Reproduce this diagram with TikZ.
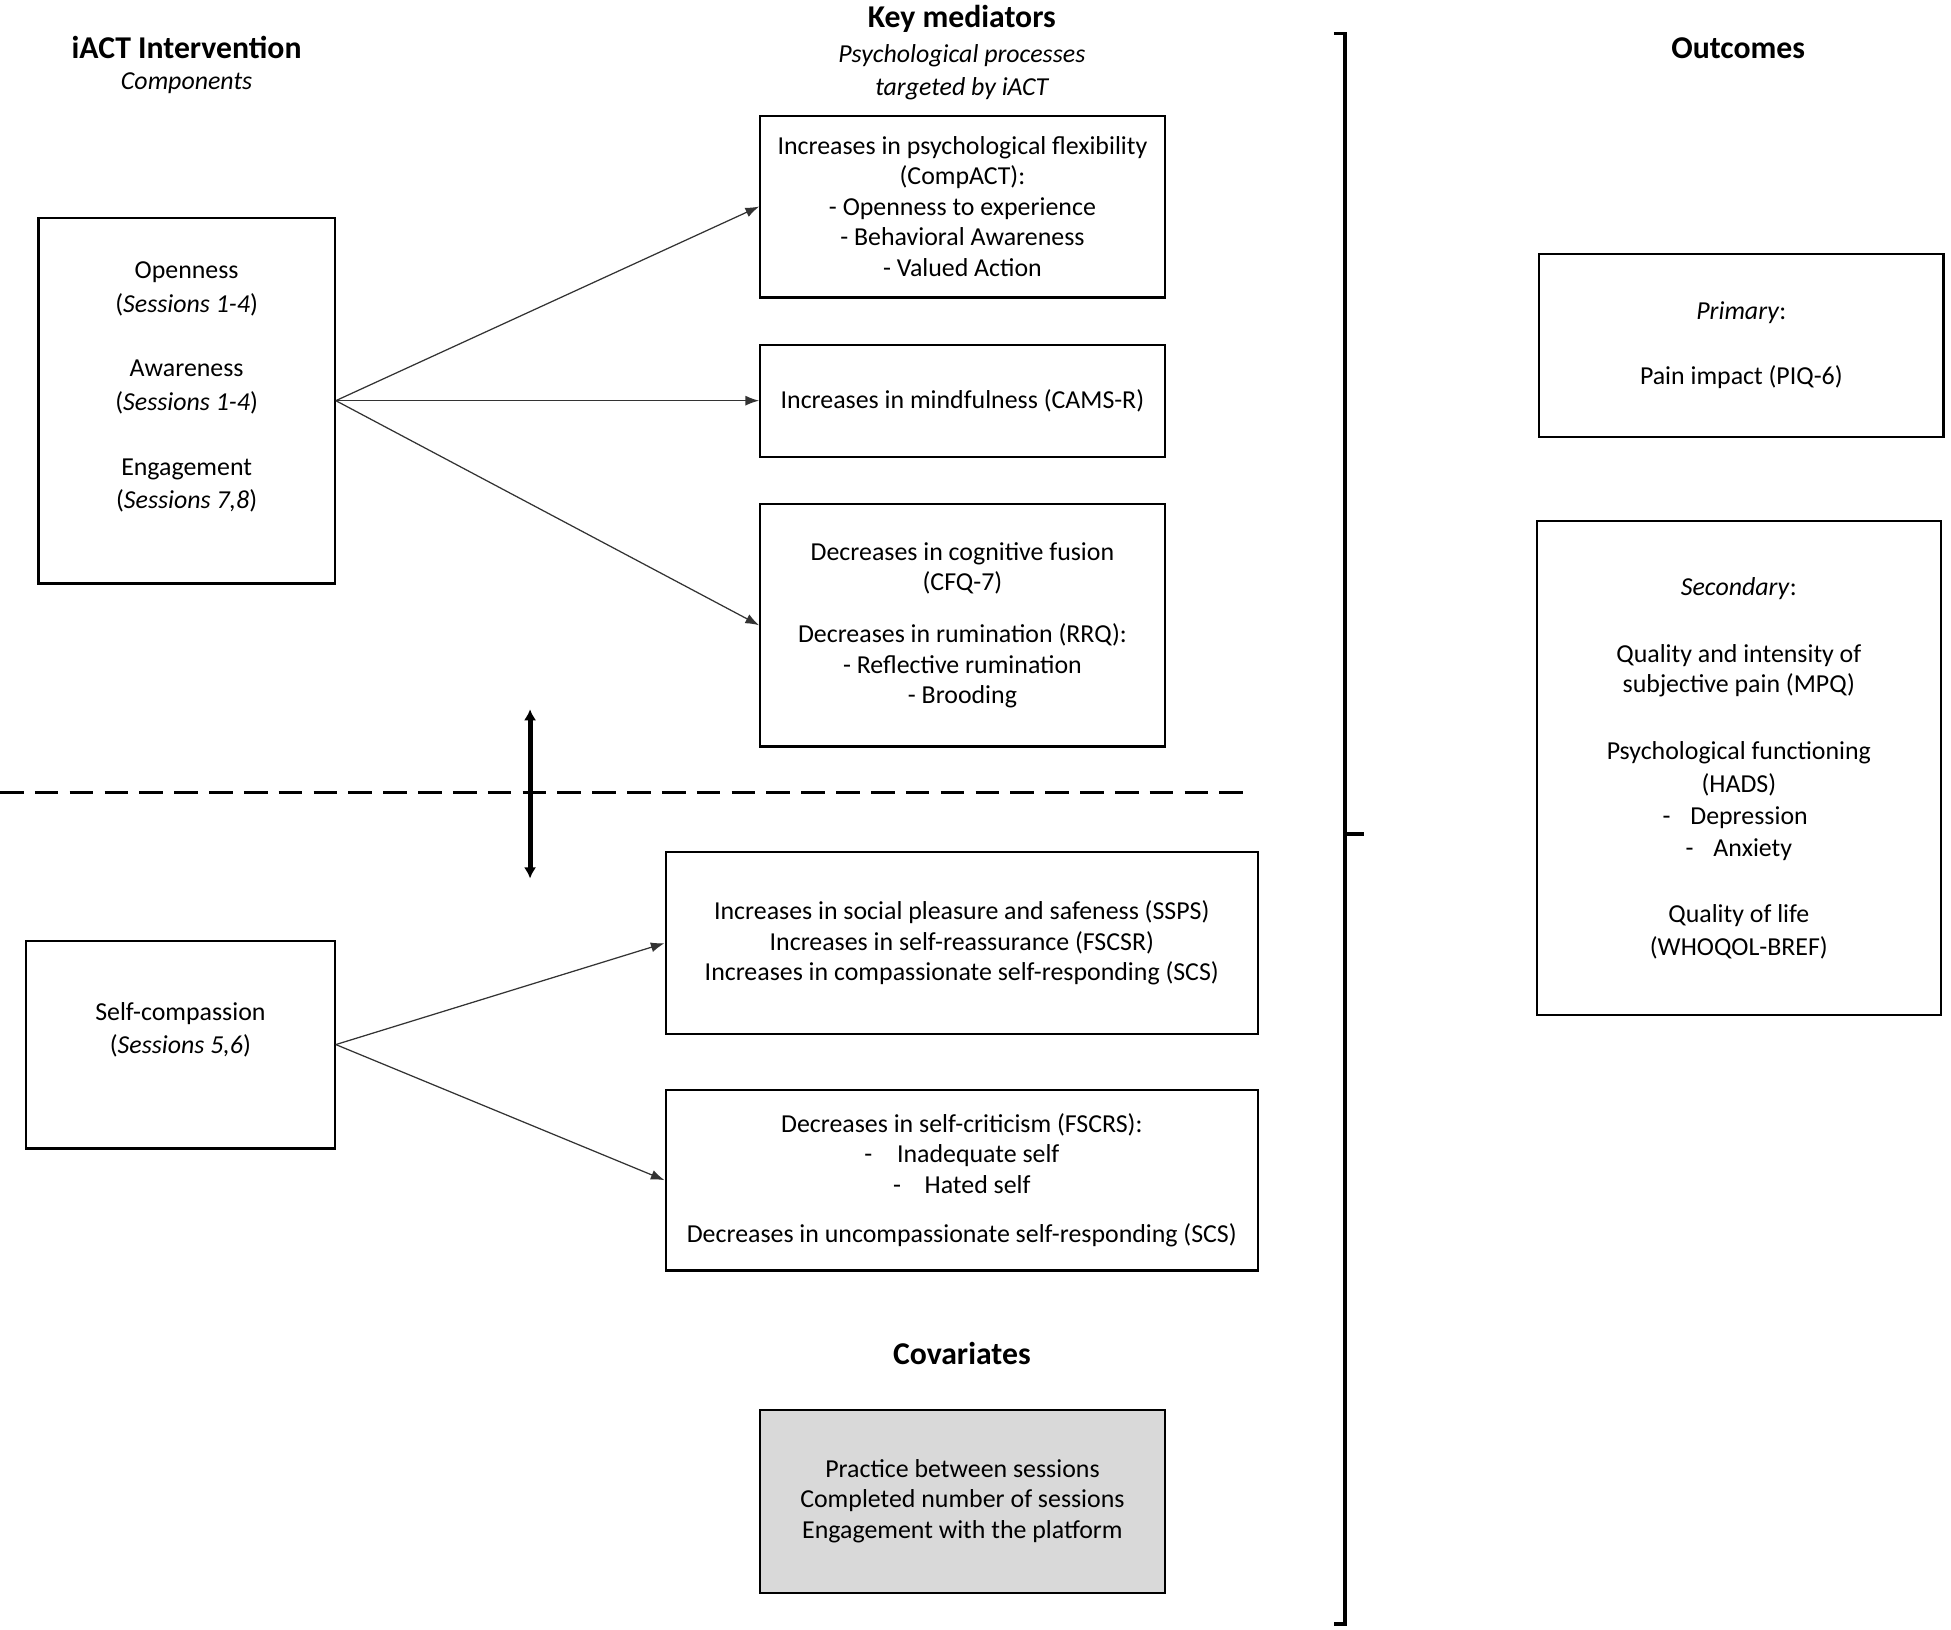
\documentclass[tikz,border=0pt]{standalone}
\usepackage{fontspec}
\setmainfont{Carlito}
\usetikzlibrary{arrows.meta}
\newcommand\bodyfs{\fontsize{20.8}{24.5}\selectfont}
\newcommand\titlefs{\fontsize{25.5}{30}\selectfont\bfseries}
\begin{document}
\begin{tikzpicture}[x=1pt,y=-1pt,
  box/.style={draw=black, line width=1.8pt, align=center, inner sep=0pt, font=\bodyfs},
  txt/.style={align=center, inner sep=0pt, font=\bodyfs},
  ttl/.style={align=center, inner sep=0pt, font=\titlefs},
  conn/.style={draw=black!80, line width=1pt, -{Latex[length=11pt,width=8pt]}},
  sep/.style={line width=3pt, dash pattern=on 19pt off 9pt},
  dbl/.style={line width=4pt, {Latex[length=9pt,width=10pt]}-{Latex[length=9pt,width=10pt]}},
  brk/.style={line width=3pt}]
\useasboundingbox (0,0) rectangle (1568,1310);

% titles
\node[ttl] (t1) at (150,38) {iACT Intervention};
\node[txt] (t1s) at (150,67) {\itshape Components};
\node[ttl] (t2) at (773,15) {Key mediators};
\node[txt] (t2s) at (773,58) {\itshape Psychological processes\\[1.5pt]\itshape targeted by iACT};
\node[ttl] (t3) at (1397,39) {Outcomes};
\node[ttl] (t4) at (773,1088) {Covariates};

% left boxes
\node[box, minimum width=238, minimum height=294] (a) at (150,322) {};
\node[txt] (at) at (150,311) {Openness\\[2.5pt](\textit{Sessions 1-4})\\[27pt]Awareness\\[2.5pt](\textit{Sessions 1-4})\\[28pt]Engagement\\[2pt](\textit{Sessions 7,8})};
\node[box, minimum width=248, minimum height=167] (sc) at (145,839.5) {};
\node[txt] (sct) at (145,827.5) {Self-compassion\\[2.5pt](\textit{Sessions 5,6})};

% mediators
\node[box, minimum width=325, minimum height=146] (m1) at (773.5,166) {Increases in psychological flexibility\\(CompACT):\\- Openness to experience\\- Behavioral Awareness\\- Valued Action};
\node[box, minimum width=325, minimum height=90] (m2) at (773.5,322) {Increases in mindfulness (CAMS-R)};
\node[box, minimum width=325, minimum height=195] (m3) at (773.5,502.5) {Decreases in cognitive fusion\\(CFQ-7)\\[17.5pt]Decreases in rumination (RRQ):\\- Reflective rumination\\- Brooding};
\node[box, minimum width=476, minimum height=146] (m4) at (773,758) {Increases in social pleasure and safeness (SSPS)\\Increases in self-reassurance (FSCSR)\\Increases in compassionate self-responding (SCS)};
\node[box, minimum width=476, minimum height=145] (m5) at (773,948.5) {Decreases in self-criticism (FSCRS):\\-\hspace{20pt}Inadequate self\\-\hspace{19pt}Hated self\\[15.5pt]Decreases in uncompassionate self-responding (SCS)};

% covariates
\node[box, fill=black!15, minimum width=325, minimum height=147] (cov) at (773.5,1206.5) {Practice between sessions\\Completed number of sessions\\Engagement with the platform};

% outcomes
\node[box, minimum width=325, minimum height=147] (o1) at (1399.5,277.5) {\textit{Primary}:\\[27.5pt]Pain impact (PIQ-6)};
\node[box, minimum width=325, minimum height=397] (o2) at (1397.5,617.5) {\textit{Secondary}:\\[29pt]Quality and intensity of\\subjective pain (MPQ)\\[29pt]Psychological functioning\\[2.5pt](HADS)\\[1pt]\hspace*{-6pt}-\hspace{16pt}Depression\\[1.5pt]-\hspace{16pt}Anxiety\\[28.5pt]Quality of life\\[2pt](WHOQOL-BREF)};

% connectors
\draw[conn] (a.east) -- (m1.west);
\draw[conn] (a.east) -- (m2.west);
\draw[conn] (a.east) -- (m3.west);
\draw[conn] (sc.east) -- (m4.west);
\draw[conn] (sc.east) -- (m5.west);

% separator
\coordinate (d1) at (0,637);
\coordinate (d2) at (1006,637);
\draw[sep] (d1) -- (d2);
\coordinate (v1) at (426,570);
\coordinate (v2) at (426,706);
\draw[dbl] (v1) -- (v2);

% bracket
\coordinate (b1) at (1072,27);
\coordinate (b2) at (1081,27);
\coordinate (b3) at (1081,1305);
\coordinate (b4) at (1072,1305);
\coordinate (bm1) at (1081,670);
\coordinate (bm2) at (1096,670);
\draw[brk] (b1) -- (b2) -- (b3) -- (b4);
\draw[brk] (bm1) -- (bm2);
\end{tikzpicture}
\end{document}
